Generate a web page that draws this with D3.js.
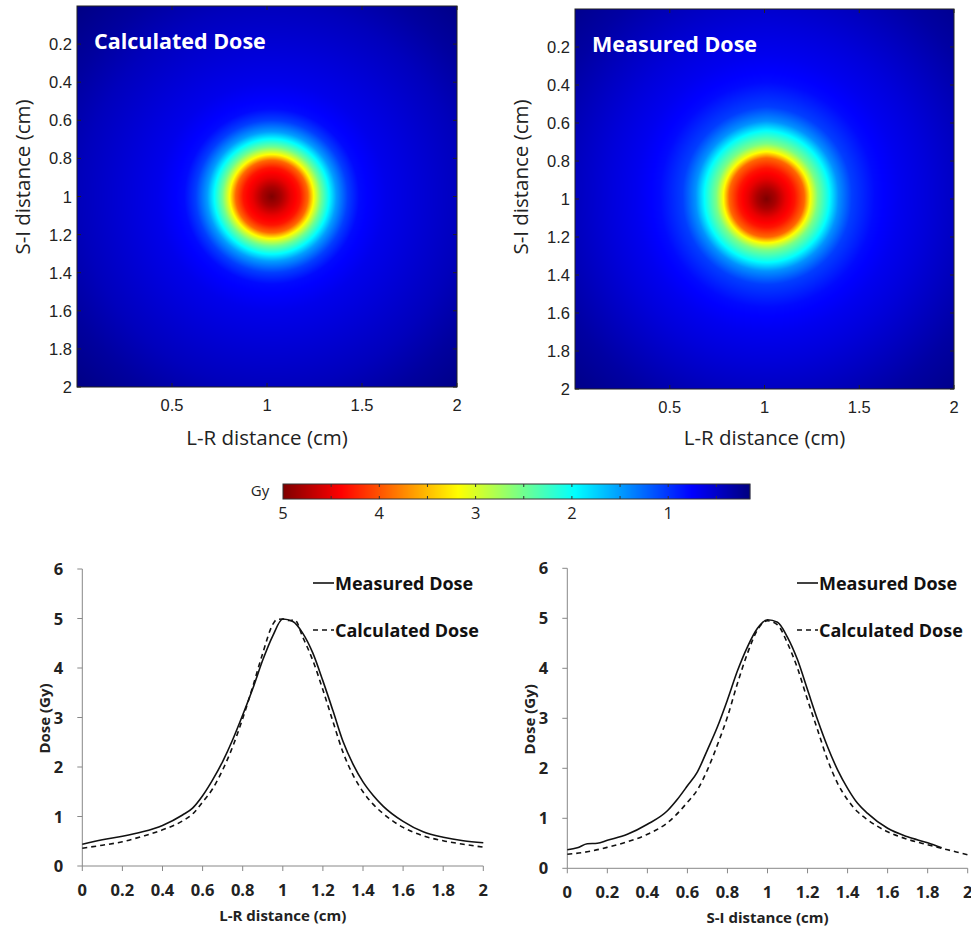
<!DOCTYPE html>
<html>
<head>
<meta charset="utf-8">
<script src="https://cdn.jsdelivr.net/npm/d3@7"></script>
<style>
  body { margin: 0; background: #fff; }
  svg { display: block; }
</style>
</head>
<body>
<script>
// ---- profile data ----
var lrX = [0,0.1,0.2,0.3,0.4,0.5,0.55,0.6,0.65,0.7,0.75,0.8,0.85,0.9,0.95,1.0,1.05,1.1,1.15,1.2,1.25,1.3,1.35,1.4,1.45,1.5,1.6,1.7,1.8,1.9,2.0];
var lrMeasured = [0.44,0.53,0.60,0.69,0.82,1.03,1.17,1.42,1.74,2.11,2.55,3.05,3.58,4.16,4.65,4.99,4.94,4.70,4.30,3.74,3.14,2.52,2.06,1.70,1.43,1.21,0.90,0.69,0.58,0.51,0.47];
var lrCalcX = [0,0.1,0.2,0.3,0.4,0.5,0.55,0.6,0.65,0.7,0.75,0.8,0.85,0.9,0.95,0.97,1.0,1.03,1.06,1.1,1.15,1.2,1.25,1.3,1.35,1.4,1.45,1.5,1.6,1.7,1.8,1.9,2.0];
var lrCalculated = [0.36,0.42,0.49,0.60,0.73,0.91,1.05,1.29,1.56,1.94,2.41,2.98,3.62,4.30,4.88,4.98,4.99,4.96,4.97,4.62,4.15,3.56,2.92,2.30,1.84,1.50,1.25,1.06,0.78,0.61,0.51,0.44,0.38];

var siX = [0,0.05,0.1,0.15,0.2,0.3,0.4,0.5,0.55,0.6,0.65,0.7,0.75,0.8,0.85,0.9,0.95,1.0,1.05,1.1,1.15,1.2,1.25,1.3,1.35,1.4,1.45,1.5,1.6,1.7,1.8,1.87];
var siMeasured = [0.37,0.41,0.49,0.50,0.56,0.68,0.88,1.15,1.38,1.65,1.93,2.37,2.83,3.37,3.95,4.43,4.80,4.97,4.92,4.62,4.17,3.57,2.97,2.43,1.97,1.60,1.30,1.10,0.80,0.63,0.51,0.41];
var siCalcX = [0,0.1,0.2,0.3,0.4,0.5,0.6,0.65,0.7,0.75,0.8,0.85,0.9,0.95,1.0,1.05,1.1,1.15,1.2,1.25,1.3,1.35,1.4,1.45,1.5,1.6,1.7,1.8,1.9,2.0];
var siCalculated = [0.28,0.33,0.42,0.53,0.68,0.91,1.32,1.57,1.97,2.47,3.03,3.70,4.30,4.77,4.95,4.87,4.50,4.00,3.37,2.77,2.17,1.70,1.37,1.13,0.97,0.73,0.58,0.47,0.37,0.27];

// ---- dose maps: radial dose ----
var calcRadius = [0,0.05,0.1,0.15,0.19,0.22,0.26,0.3,0.34,0.4,0.46,0.6,0.8,1.0,1.2,1.42];
var calcRadialDose = [5.0,4.8,4.5,4.3,3.9,3.2,2.5,2.0,1.5,1.05,0.8,0.66,0.55,0.44,0.3,0.18];
var measRadius = [0,0.05,0.1,0.15,0.2,0.23,0.27,0.33,0.38,0.45,0.57,0.7,0.85,1.0,1.2,1.42];
var measRadialDose = [5.0,4.8,4.5,4.3,3.9,3.2,2.55,2.0,1.45,1.05,0.8,0.68,0.58,0.47,0.32,0.2];
var calcCenter = [1.025, 1.0];
var measCenter = [1.01, 1.0];
// ring extent of the measured map by direction (deg, 0 = right, 90 = down)
var measAngle = [0, 90, 180, 270, 360];
var measStretch = [1.0, 1.0, 0.98, 1.08, 1.0];

// ---- colour bar ----
var jetStops = [0, 0.125, 0.375, 0.625, 0.875, 1];
var jetColors = ["#00007f", "#0000ff", "#00ffff", "#ffff00", "#ff0000", "#7f0000"];
var doseMin = 0.15, doseMax = 5;
var cbTickLabels = [5, 4, 3, 2, 1];
var cbTickMarks = [4.5, 4, 3.5, 3, 2.5, 2, 1.5, 1, 0.5];

var mapXTicks = [0.5, 1, 1.5, 2];
var mapYTicks = [0.2, 0.4, 0.6, 0.8, 1, 1.2, 1.4, 1.6, 1.8, 2];
var profXTicks = [0, 0.2, 0.4, 0.6, 0.8, 1, 1.2, 1.4, 1.6, 1.8, 2];
var profYTicks = [0, 1, 2, 3, 4, 5, 6];

var W = 971, H = 926;
var svg = d3.select("body").append("svg").attr("width", W).attr("height", H);

var jet = d3.scaleLinear()
  .domain(jetStops.map(function (t) { return doseMin + t * (doseMax - doseMin); }))
  .range(jetColors)
  .interpolate(d3.interpolateRgb)
  .clamp(true);

function drawMap(opt) {
  var x = d3.scaleLinear().domain([0, 2]).range([opt.left, opt.right]);
  var y = d3.scaleLinear().domain([0, 2]).range([opt.top, opt.bottom]);
  var radial = d3.scaleLinear().domain(opt.radius).range(opt.dose).clamp(true);
  var stretch = d3.scaleLinear().domain(measAngle).range(opt.stretch || [1, 1, 1, 1, 1]);

  var w = Math.round(opt.right - opt.left), h = Math.round(opt.bottom - opt.top);
  var canvas = document.createElement("canvas");
  canvas.width = w; canvas.height = h;
  var ctx = canvas.getContext("2d");
  var img = ctx.createImageData(w, h);
  for (var j = 0; j < h; j++) {
    var yy = y.invert(opt.top + j + 0.5);
    for (var i = 0; i < w; i++) {
      var xx = x.invert(opt.left + i + 0.5);
      var dx = xx - opt.center[0], dy = yy - opt.center[1];
      var ang = Math.atan2(dy, dx) * 180 / Math.PI;
      if (ang < 0) ang += 360;
      var r = Math.sqrt(dx * dx + dy * dy) / stretch(ang);
      var c = d3.rgb(jet(radial(r)));
      var k = (j * w + i) * 4;
      img.data[k] = c.r; img.data[k + 1] = c.g; img.data[k + 2] = c.b; img.data[k + 3] = 255;
    }
  }
  ctx.putImageData(img, 0, 0);

  var g = svg.append("g");
  g.append("image")
    .attr("x", opt.left).attr("y", opt.top)
    .attr("width", w).attr("height", h)
    .attr("preserveAspectRatio", "none")
    .attr("href", canvas.toDataURL());

  // inside ticks on all four sides
  var tk = 4;
  g.selectAll(".tb").data(mapXTicks).enter().append("line")
    .attr("x1", function (d) { return x(d); }).attr("x2", function (d) { return x(d); })
    .attr("y1", opt.bottom).attr("y2", opt.bottom - tk)
    .attr("stroke", "#222").attr("stroke-width", 1);
  g.selectAll(".tt").data(mapXTicks).enter().append("line")
    .attr("x1", function (d) { return x(d); }).attr("x2", function (d) { return x(d); })
    .attr("y1", opt.top).attr("y2", opt.top + tk)
    .attr("stroke", "#222").attr("stroke-width", 1);
  g.selectAll(".tl").data(mapYTicks).enter().append("line")
    .attr("x1", opt.left).attr("x2", opt.left + tk)
    .attr("y1", function (d) { return y(d); }).attr("y2", function (d) { return y(d); })
    .attr("stroke", "#222").attr("stroke-width", 1);
  g.selectAll(".tr").data(mapYTicks).enter().append("line")
    .attr("x1", opt.right).attr("x2", opt.right - tk)
    .attr("y1", function (d) { return y(d); }).attr("y2", function (d) { return y(d); })
    .attr("stroke", "#222").attr("stroke-width", 1);

  g.append("rect")
    .attr("x", opt.left).attr("y", opt.top)
    .attr("width", w).attr("height", h)
    .attr("fill", "none").attr("stroke", "#222").attr("stroke-width", 1);

  g.selectAll(".xl").data(mapXTicks).enter().append("text")
    .attr("x", function (d) { return x(d); }).attr("y", opt.bottom + 24)
    .attr("text-anchor", "middle")
    .style("font-family", "Liberation Sans, Arial, sans-serif").style("font-size", "16.5px")
    .attr("fill", "#222")
    .text(function (d) { return d; });
  g.selectAll(".yl").data(mapYTicks).enter().append("text")
    .attr("x", opt.left - 5).attr("y", function (d) { return y(d) + 6; })
    .attr("text-anchor", "end")
    .style("font-family", "Liberation Sans, Arial, sans-serif").style("font-size", "16.5px")
    .attr("fill", "#222")
    .text(function (d) { return d; });

  g.append("text")
    .attr("x", (opt.left + opt.right) / 2).attr("y", 445)
    .attr("text-anchor", "middle")
    .style("font-family", "Open Sans, sans-serif").style("font-size", "20.5px")
    .attr("fill", "#222")
    .text("L-R distance (cm)");
  g.append("text")
    .attr("transform", "translate(" + (opt.left - 54) + ",177) rotate(-90)")
    .attr("text-anchor", "middle")
    .attr("dy", "0.35em")
    .style("font-family", "Open Sans, sans-serif").style("font-size", "20.5px")
    .attr("fill", "#222")
    .text("S-I distance (cm)");

  g.append("text")
    .attr("x", opt.left + 17).attr("y", opt.top + 43)
    .style("font-family", "Open Sans, sans-serif").style("font-size", "21.5px")
    .style("font-weight", "bold")
    .attr("fill", "#fff")
    .text(opt.title);
}

drawMap({ title: "Calculated Dose", left: 77, right: 457, top: 6, bottom: 387,
  center: calcCenter, radius: calcRadius, dose: calcRadialDose });
drawMap({ title: "Measured Dose", left: 575, right: 954, top: 9, bottom: 389,
  center: measCenter, radius: measRadius, dose: measRadialDose, stretch: measStretch });

// ---- colour bar ----
(function () {
  var cbX = d3.scaleLinear().domain([doseMax, 0]).range([283, 283 + 5 * 96.3]);
  var top = 484, bottom = 499;
  var g = svg.append("g");
  var x0 = Math.round(cbX(doseMax)), x1 = Math.round(cbX(doseMin));
  g.selectAll(".cb").data(d3.range(x0, x1)).enter().append("rect")
    .attr("x", function (d) { return d; }).attr("y", top)
    .attr("width", 1.2).attr("height", bottom - top)
    .attr("fill", function (d) { return jet(cbX.invert(d + 0.5)); });
  g.selectAll(".cbt").data(cbTickMarks).enter().append("line")
    .attr("x1", function (d) { return cbX(d); }).attr("x2", function (d) { return cbX(d); })
    .attr("y1", top).attr("y2", top + 3)
    .attr("stroke", "#333");
  g.selectAll(".cbb").data(cbTickMarks).enter().append("line")
    .attr("x1", function (d) { return cbX(d); }).attr("x2", function (d) { return cbX(d); })
    .attr("y1", bottom).attr("y2", bottom - 3)
    .attr("stroke", "#333");
  g.append("rect").attr("x", x0).attr("y", top)
    .attr("width", x1 - x0).attr("height", bottom - top)
    .attr("fill", "none").attr("stroke", "#333").attr("stroke-width", 1);
  g.selectAll(".cbl").data(cbTickLabels).enter().append("text")
    .attr("x", function (d) { return cbX(d); }).attr("y", 519)
    .attr("text-anchor", "middle")
    .style("font-family", "Open Sans, sans-serif").style("font-size", "16.5px")
    .attr("fill", "#222")
    .text(function (d) { return d; });
  g.append("text").attr("x", 260).attr("y", 496)
    .attr("text-anchor", "middle")
    .style("font-family", "Open Sans, sans-serif").style("font-size", "15px")
    .attr("fill", "#222")
    .text("Gy");
})();

// ---- profile plots ----
function drawProfile(opt) {
  var x = d3.scaleLinear().domain([0, 2]).range([opt.left, opt.right]);
  var y = d3.scaleLinear().domain([0, 6]).range([opt.bottom, opt.top]);
  var g = svg.append("g");
  var axisColor = "#888";

  g.append("line").attr("x1", opt.left).attr("x2", opt.left)
    .attr("y1", opt.top).attr("y2", opt.bottom).attr("stroke", axisColor);
  g.append("line").attr("x1", opt.left).attr("x2", opt.right)
    .attr("y1", opt.bottom).attr("y2", opt.bottom).attr("stroke", axisColor);
  g.selectAll(".yt").data(profYTicks).enter().append("line")
    .attr("x1", opt.left - 5).attr("x2", opt.left)
    .attr("y1", function (d) { return y(d); }).attr("y2", function (d) { return y(d); })
    .attr("stroke", axisColor);
  g.selectAll(".xt").data(profXTicks).enter().append("line")
    .attr("x1", function (d) { return x(d); }).attr("x2", function (d) { return x(d); })
    .attr("y1", opt.bottom).attr("y2", opt.bottom + 5)
    .attr("stroke", axisColor);

  var font = "Open Sans, sans-serif";
  g.selectAll(".yl").data(profYTicks).enter().append("text")
    .attr("x", opt.left - 19).attr("y", function (d) { return y(d) + 6; })
    .attr("text-anchor", "end")
    .style("font-family", font).style("font-size", "16.5px").style("font-weight", "bold")
    .attr("fill", "#222")
    .text(function (d) { return d; });
  g.selectAll(".xl").data(profXTicks).enter().append("text")
    .attr("x", function (d) { return x(d); }).attr("y", opt.bottom + 30)
    .attr("text-anchor", "middle")
    .style("font-family", font).style("font-size", "16.5px").style("font-weight", "bold")
    .attr("fill", "#222")
    .text(function (d) { return d; });

  g.append("text")
    .attr("x", (opt.left + opt.right) / 2).attr("y", opt.bottom + 55)
    .attr("text-anchor", "middle")
    .style("font-family", font).style("font-size", "15px").style("font-weight", "bold")
    .attr("fill", "#222")
    .text(opt.xlabel);
  g.append("text")
    .attr("transform", "translate(" + (opt.left - 38) + "," + y(2.98) + ") rotate(-90)")
    .attr("text-anchor", "middle")
    .attr("dy", "0.35em")
    .style("font-family", font).style("font-size", "15px").style("font-weight", "bold")
    .attr("fill", "#222")
    .text("Dose (Gy)");

  var line = d3.line()
    .x(function (d) { return x(d[0]); })
    .y(function (d) { return y(d[1]); })
    .curve(d3.curveMonotoneX);

  g.append("path")
    .datum(d3.zip(opt.calcX, opt.calc))
    .attr("d", line)
    .attr("fill", "none").attr("stroke", "#111").attr("stroke-width", 1.6)
    .attr("stroke-dasharray", "5,4");
  g.append("path")
    .datum(d3.zip(opt.measX, opt.meas))
    .attr("d", line)
    .attr("fill", "none").attr("stroke", "#111").attr("stroke-width", 1.6);

  // legend
  var lx = opt.legendX;
  g.append("line").attr("x1", lx).attr("x2", lx + 21)
    .attr("y1", 583).attr("y2", 583).attr("stroke", "#111").attr("stroke-width", 1.6);
  g.append("line").attr("x1", lx).attr("x2", lx + 21)
    .attr("y1", 630).attr("y2", 630).attr("stroke", "#111").attr("stroke-width", 1.6)
    .attr("stroke-dasharray", "5,4");
  g.append("text").attr("x", lx + 22).attr("y", 590)
    .style("font-family", font).style("font-size", "18px").style("font-weight", "bold")
    .attr("fill", "#111")
    .text("Measured Dose");
  g.append("text").attr("x", lx + 22).attr("y", 637)
    .style("font-family", font).style("font-size", "18px").style("font-weight", "bold")
    .attr("fill", "#111")
    .text("Calculated Dose");
}

drawProfile({ left: 82.3, right: 483.3, top: 569, bottom: 866, xlabel: "L-R distance (cm)",
  measX: lrX, meas: lrMeasured, calcX: lrCalcX, calc: lrCalculated, legendX: 313 });
drawProfile({ left: 567.3, right: 967.7, top: 568.3, bottom: 868.3, xlabel: "S-I distance (cm)",
  measX: siX, meas: siMeasured, calcX: siCalcX, calc: siCalculated, legendX: 797 });
</script>
</body>
</html>
